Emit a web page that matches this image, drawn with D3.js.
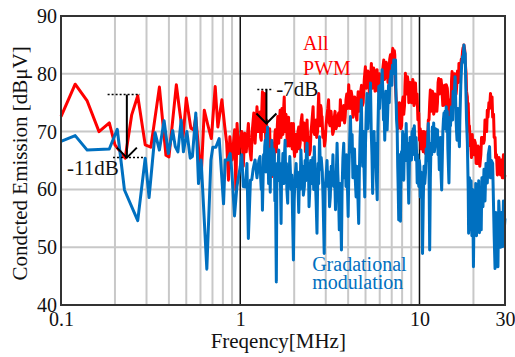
<!DOCTYPE html>
<html>
<head>
<meta charset="utf-8">
<script src="https://cdn.jsdelivr.net/npm/d3@7"></script>
<style>
  html, body { margin: 0; padding: 0; background: #fff; }
  svg text { font-family: "Liberation Serif", "Tinos", "Times New Roman", "DejaVu Serif", serif; }
</style>
</head>
<body>
<div id="chart"></div>
<script>
// axis values
const freqTicks = [0.1, 1, 10, 30];
const freqTickLabels = ['0.1', '1', '10', '30'];
const minorFreqs = [0.2, 0.3, 0.4, 0.5, 0.6, 0.7, 0.8, 0.9, 2, 3, 4, 5, 6, 7, 8, 9, 20];
const decadeFreqs = [1, 10];
const levelTicks = [40, 50, 60, 70, 80, 90];

// [MHz, dBuV]
const allPwm = [
  [0.100,72.6],[0.120,78.2],[0.140,75.3],[0.163,70.0],[0.186,71.5],[0.200,67.7],[0.228,65.4],[0.248,72.9],
  [0.268,76.2],[0.295,67.7],[0.317,67.3],[0.354,77.7],[0.385,65.9],[0.400,65.6],[0.440,78.1],[0.456,74.3],
  [0.480,69.1],[0.500,75.8],[0.530,70.6],[0.550,70.3],[0.565,72.5],[0.605,62.0],[0.630,73.7],[0.660,71.1],
  [0.690,68.8],[0.725,77.8],[0.750,70.8],[0.790,75.5],[0.820,70.8],[0.840,68.0],[0.860,61.6],[0.875,69.1],
  [0.900,65.1],[0.930,70.3],[0.945,59.9],[0.960,71.4],[0.980,66.2],[1.00,68.5],[1.02,70.0],[1.04,64.0],
  [1.06,69.7],[1.08,66.5],[1.11,71.4],[1.13,67.0],[1.15,65.1],[1.17,70.5],[1.19,73.2],[1.21,68.0],
  [1.24,74.3],[1.26,70.0],[1.29,73.4],[1.30,69.0],[1.31,68.5],[1.32,74.0],[1.33,76.9],[1.34,71.0],
  [1.35,70.0],[1.36,75.0],[1.37,76.6],[1.38,70.5],[1.39,68.0],[1.40,72.0],[1.41,69.8],[1.42,66.0],
  [1.43,64.5],[1.45,69.0],[1.46,70.5],[1.47,65.0],[1.48,63.5],[1.49,67.0],[1.50,62.2],[1.51,66.5],
  [1.52,68.0],[1.53,64.5],[1.55,66.0],[1.56,69.5],[1.57,70.3],[1.58,67.0],[1.59,66.5],[1.61,71.0],
  [1.62,72.6],[1.63,68.5],[1.64,68.0],[1.66,72.5],[1.67,73.7],[1.68,70.0],[1.69,69.0],[1.70,73.0],
  [1.71,74.0],[1.73,69.5],[1.74,70.5],[1.75,74.5],[1.76,76.0],[1.77,71.5],[1.78,70.0],[1.80,73.0],
  [1.81,72.0],[1.83,67.5],[1.84,68.5],[1.85,71.5],[1.86,72.5],[1.88,68.0],[1.89,67.5],[1.91,70.5],
  [1.93,71.4],[1.95,67.0],[1.96,68.0],[1.97,70.5],[1.98,71.4],[2.00,66.5],[2.01,65.7],[2.03,68.5],
  [2.04,69.5],[2.06,66.5],[2.08,67.5],[2.10,70.0],[2.12,70.8],[2.14,67.0],[2.16,68.0],[2.18,71.5],
  [2.21,72.9],[2.23,69.0],[2.25,68.5],[2.27,71.5],[2.29,71.0],[2.31,66.5],[2.33,67.0],[2.35,71.0],
  [2.36,72.0],[2.38,68.5],[2.40,69.0],[2.43,66.0],[2.46,66.8],[2.48,70.0],[2.50,71.0],[2.53,73.0],
  [2.55,74.3],[2.57,70.0],[2.60,69.5],[2.62,71.5],[2.65,72.0],[2.67,69.0],[2.70,70.0],[2.72,74.0],
  [2.74,76.6],[2.77,72.0],[2.79,71.0],[2.81,74.5],[2.83,74.0],[2.85,71.0],[2.86,72.6],[2.89,69.0],
  [2.92,70.0],[2.95,67.5],[2.98,68.5],[3.01,71.0],[3.04,72.5],[3.08,74.0],[3.11,75.5],[3.14,71.5],
  [3.17,71.0],[3.21,73.5],[3.25,71.4],[3.28,69.5],[3.31,70.0],[3.35,72.5],[3.38,73.5],[3.42,70.5],
  [3.46,71.0],[3.50,72.5],[3.54,73.2],[3.58,71.0],[3.62,75.5],[3.66,73.0],[3.70,72.0],[3.74,74.0],
  [3.78,74.5],[3.82,71.5],[3.85,72.5],[3.89,75.5],[3.93,76.5],[3.98,74.0],[4.03,78.1],[4.07,75.0],
  [4.11,74.0],[4.16,77.0],[4.21,76.0],[4.25,72.5],[4.30,73.5],[4.35,76.0],[4.40,75.5],[4.44,72.5],
  [4.48,72.0],[4.52,75.5],[4.55,76.9],[4.60,73.5],[4.65,74.0],[4.70,77.0],[4.75,78.0],[4.80,74.5],
  [4.85,75.0],[4.92,79.0],[4.99,81.2],[5.04,77.5],[5.10,78.0],[5.15,80.5],[5.21,79.5],[5.25,76.5],
  [5.30,77.5],[5.35,80.0],[5.39,81.8],[5.45,77.5],[5.50,78.5],[5.55,81.0],[5.60,80.5],[5.65,77.0],
  [5.70,77.5],[5.75,80.0],[5.80,80.7],[5.86,77.0],[5.92,77.0],[5.98,80.0],[6.05,79.0],[6.11,77.0],
  [6.18,78.0],[6.25,81.0],[6.32,82.4],[6.38,79.0],[6.45,79.5],[6.52,82.0],[6.60,81.5],[6.67,78.5],
  [6.75,80.0],[6.82,82.5],[6.89,83.3],[6.95,80.5],[7.00,81.0],[7.05,83.5],[7.10,84.4],[7.15,81.5],
  [7.20,82.5],[7.24,84.0],[7.28,83.3],[7.34,78.0],[7.40,76.0],[7.45,74.5],[7.51,73.2],[7.58,70.5],
  [7.65,72.0],[7.72,75.0],[7.80,74.5],[7.87,70.5],[7.95,71.0],[8.02,75.0],[8.10,76.0],[8.17,73.0],
  [8.25,74.5],[8.30,78.0],[8.35,80.1],[8.42,76.5],[8.50,77.5],[8.57,79.5],[8.65,78.5],[8.72,75.0],
  [8.80,75.5],[8.87,78.5],[8.95,78.0],[9.02,75.0],[9.10,76.0],[9.17,79.0],[9.25,78.5],[9.32,74.5],
  [9.40,75.0],[9.45,78.0],[9.50,78.4],[9.60,75.0],[9.70,76.5],[9.80,72.0],[9.91,73.2],[10.0,68.5],
  [10.1,70.5],[10.2,67.0],[10.3,70.0],[10.4,68.5],[10.5,66.5],[10.6,70.0],[10.7,67.0],[10.8,66.2],
  [10.9,69.5],[11.0,70.0],[11.1,67.5],[11.2,72.0],[11.3,72.0],[11.4,75.0],[11.5,77.2],[11.6,73.5],
  [11.7,74.0],[11.8,77.0],[11.9,76.5],[12.0,73.0],[12.1,73.5],[12.2,76.5],[12.4,76.0],[12.5,73.5],
  [12.6,75.0],[12.7,78.5],[12.8,79.2],[12.9,76.5],[13.0,77.5],[13.2,79.0],[13.3,78.0],[13.5,74.5],
  [13.6,75.5],[13.8,78.0],[13.9,77.0],[14.0,74.5],[14.1,78.1],[14.3,77.5],[14.4,76.0],[14.6,72.0],
  [14.7,72.5],[14.9,75.5],[15.0,74.5],[15.1,79.0],[15.2,80.4],[15.4,77.0],[15.5,78.0],[15.7,80.0],
  [15.8,79.5],[16.0,76.5],[16.1,77.5],[16.3,80.5],[16.4,80.0],[16.5,78.5],[16.6,81.8],[16.8,79.5],
  [16.9,80.5],[17.1,82.5],[17.2,82.0],[17.4,84.0],[17.5,84.5],[17.6,83.0],[17.7,85.0],[17.8,84.5],
  [17.9,84.0],[18.0,82.0],[18.2,80.0],[18.3,77.0],[18.5,76.0],[18.6,72.5],[18.7,74.9],[18.9,70.0],
  [19.0,71.0],[19.2,67.5],[19.3,68.0],[19.5,65.5],[19.7,69.5],[19.9,66.5],[20.1,66.0],[20.3,68.5],
  [20.5,68.0],[20.7,64.5],[21.0,64.5],[21.2,67.5],[21.5,67.0],[21.7,64.0],[22.0,66.0],[22.2,69.0],
  [22.5,69.0],[22.8,68.0],[23.0,68.5],[23.2,72.0],[23.5,71.5],[23.7,70.0],[23.9,73.7],[24.1,72.5],
  [24.4,75.0],[24.6,74.0],[24.9,76.6],[25.1,75.0],[25.4,76.0],[25.6,72.5],[25.9,73.0],[26.1,69.0],
  [26.4,69.0],[26.6,65.5],[26.9,66.0],[27.2,62.5],[27.5,63.0],[27.8,65.5],[28.0,64.5],[28.3,62.5],
  [28.7,65.1],[29.0,62.0],[29.2,63.5],[29.4,66.0],[29.6,64.8],[29.8,62.0],[30.0,62.5]
];

const gradational = [
  [0.100,68.3],[0.120,69.3],[0.140,66.8],[0.186,67.0],[0.206,70.4],[0.226,59.9],[0.268,54.6],[0.295,65.4],
  [0.310,58.6],[0.335,69.8],[0.354,66.8],[0.376,71.9],[0.397,66.2],[0.420,70.2],[0.434,67.4],[0.449,66.5],
  [0.468,72.0],[0.482,66.5],[0.504,70.0],[0.526,65.4],[0.541,65.7],[0.565,73.2],[0.585,61.0],[0.605,65.1],
  [0.651,46.2],[0.686,65.1],[0.703,67.3],[0.731,67.3],[0.763,68.8],[0.807,57.5],[0.824,65.1],[0.853,65.1],
  [0.879,66.2],[0.899,62.8],[0.929,55.4],[0.958,60.5],[1.00,63.9],[1.02,66.0],[1.04,60.5],[1.07,60.4],
  [1.09,64.5],[1.11,51.5],[1.14,61.6],[1.16,61.7],[1.18,63.5],[1.21,65.1],[1.24,62.0],[1.27,65.0],
  [1.29,65.7],[1.30,62.0],[1.31,60.0],[1.32,63.5],[1.33,56.4],[1.34,61.1],[1.35,66.0],[1.36,64.0],
  [1.37,67.5],[1.38,68.5],[1.39,63.0],[1.40,69.5],[1.41,66.5],[1.42,70.8],[1.43,66.0],[1.44,61.0],
  [1.45,67.0],[1.46,64.5],[1.47,59.5],[1.48,66.5],[1.49,63.0],[1.50,68.5],[1.52,62.5],[1.53,67.0],
  [1.55,66.0],[1.56,58.0],[1.57,63.0],[1.59,44.0],[1.60,60.0],[1.61,64.5],[1.62,62.0],[1.64,66.8],
  [1.65,61.5],[1.67,64.5],[1.69,54.1],[1.70,62.0],[1.72,64.0],[1.73,66.2],[1.75,61.0],[1.76,65.0],
  [1.78,68.5],[1.79,63.0],[1.81,64.5],[1.82,60.0],[1.84,57.6],[1.85,63.0],[1.87,61.5],[1.89,65.7],
  [1.90,64.0],[1.92,60.0],[1.94,62.5],[1.96,55.0],[1.98,47.8],[2.00,58.0],[2.02,62.0],[2.05,64.5],
  [2.07,60.5],[2.09,63.0],[2.12,56.0],[2.14,62.5],[2.16,60.0],[2.18,66.8],[2.21,62.0],[2.23,64.0],
  [2.25,59.0],[2.28,60.5],[2.30,65.0],[2.32,61.5],[2.34,66.5],[2.36,68.0],[2.38,62.0],[2.40,64.5],
  [2.42,57.0],[2.44,59.5],[2.47,65.0],[2.49,61.0],[2.51,62.0],[2.54,65.5],[2.57,60.0],[2.59,67.4],
  [2.62,62.5],[2.65,58.0],[2.68,52.4],[2.70,60.0],[2.72,64.5],[2.74,61.0],[2.77,69.1],[2.80,63.5],
  [2.83,65.5],[2.87,63.0],[2.90,58.0],[2.94,48.9],[2.97,60.0],[3.01,62.0],[3.05,65.0],[3.08,60.5],
  [3.12,63.0],[3.15,57.0],[3.18,58.7],[3.22,64.0],[3.25,61.0],[3.29,66.0],[3.32,60.5],[3.36,63.0],
  [3.40,56.5],[3.43,62.0],[3.47,68.0],[3.50,63.0],[3.53,60.0],[3.57,53.0],[3.60,61.0],[3.63,57.5],
  [3.67,49.5],[3.70,60.0],[3.74,65.5],[3.78,68.0],[3.81,62.0],[3.85,65.5],[3.89,60.5],[3.92,66.0],
  [3.96,61.0],[4.00,55.3],[4.04,64.0],[4.08,68.5],[4.12,72.6],[4.16,66.5],[4.21,69.5],[4.25,62.0],
  [4.30,63.9],[4.34,67.0],[4.38,62.0],[4.43,58.7],[4.47,64.0],[4.52,60.0],[4.58,54.1],[4.62,63.0],
  [4.66,69.0],[4.70,72.0],[4.74,75.5],[4.78,68.0],[4.82,64.0],[4.87,70.0],[4.91,63.0],[4.95,58.7],
  [5.00,68.0],[5.05,73.0],[5.10,76.6],[5.15,70.5],[5.20,74.0],[5.26,72.0],[5.33,78.4],[5.38,70.0],
  [5.43,66.0],[5.48,59.3],[5.53,66.5],[5.58,70.0],[5.63,64.5],[5.68,68.0],[5.75,62.0],[5.81,58.2],
  [5.86,70.0],[5.93,77.8],[5.99,74.0],[6.05,78.0],[6.12,76.0],[6.19,80.7],[6.25,76.5],[6.30,72.0],
  [6.35,74.0],[6.40,68.5],[6.45,73.0],[6.50,77.0],[6.55,74.5],[6.60,70.3],[6.66,74.0],[6.72,78.0],
  [6.78,75.0],[6.84,79.0],[6.89,78.9],[6.95,80.5],[7.01,78.0],[7.07,81.5],[7.13,80.0],[7.19,82.4],
  [7.27,81.0],[7.35,82.4],[7.40,76.0],[7.45,72.0],[7.51,70.3],[7.56,64.0],[7.61,60.0],[7.66,54.7],
  [7.71,62.0],[7.76,66.0],[7.83,54.5],[7.88,62.0],[7.94,66.5],[8.00,64.5],[8.06,70.0],[8.11,66.5],
  [8.17,61.6],[8.23,67.0],[8.30,69.5],[8.36,65.0],[8.43,71.4],[8.50,66.0],[8.57,68.0],[8.64,62.5],
  [8.71,57.6],[8.78,64.0],[8.86,69.0],[8.94,66.0],[9.02,65.1],[9.09,70.0],[9.16,66.0],[9.22,70.5],
  [9.29,67.4],[9.36,71.0],[9.43,68.0],[9.50,65.1],[9.57,69.0],[9.64,66.0],[9.71,61.1],[9.78,66.0],
  [9.84,62.2],[9.91,60.5],[9.97,65.0],[10.05,64.0],[10.1,58.7],[10.2,63.0],[10.3,60.0],[10.4,48.9],
  [10.5,58.0],[10.6,64.0],[10.7,61.0],[10.8,62.8],[10.9,67.0],[11.0,65.0],[11.1,68.0],[11.2,71.4],
  [11.3,64.0],[11.4,49.5],[11.5,62.0],[11.6,68.0],[11.7,66.0],[11.8,70.8],[11.9,68.5],[12.0,71.5],
  [12.1,66.5],[12.2,67.4],[12.3,70.5],[12.4,68.0],[12.6,70.3],[12.7,66.0],[12.8,68.0],[12.9,63.4],
  [13.0,66.0],[13.1,69.0],[13.2,62.5],[13.3,59.9],[13.4,65.0],[13.5,70.0],[13.6,72.0],[13.7,73.2],
  [13.8,70.5],[13.9,73.5],[14.0,71.5],[14.1,74.3],[14.2,70.0],[14.3,73.5],[14.4,67.0],[14.5,64.0],
  [14.6,61.1],[14.7,67.0],[14.8,72.5],[14.9,71.0],[15.0,73.5],[15.1,74.3],[15.3,72.0],[15.4,77.0],
  [15.6,75.5],[15.8,79.5],[15.9,76.0],[16.0,72.0],[16.1,70.0],[16.2,68.5],[16.4,74.0],[16.5,70.5],
  [16.7,67.4],[16.8,72.0],[17.0,78.0],[17.2,81.8],[17.4,83.0],[17.5,82.0],[17.7,85.0],[17.8,84.0],
  [18.0,83.5],[18.1,79.0],[18.3,72.0],[18.5,68.0],[18.7,60.0],[18.8,52.4],[19.0,62.0],[19.2,53.0],
  [19.4,61.5],[19.6,52.0],[19.8,60.0],[20.0,46.6],[20.2,58.5],[20.4,52.5],[20.6,61.0],[20.8,52.0],
  [21.0,59.0],[21.2,54.0],[21.4,61.5],[21.6,52.5],[21.9,60.0],[22.1,53.0],[22.3,62.0],[22.6,57.0],
  [22.9,63.5],[23.2,58.0],[23.5,64.5],[23.9,61.1],[24.2,66.0],[24.6,67.4],[24.9,62.0],[25.2,65.0],
  [25.6,64.5],[26.1,52.0],[26.4,46.3],[26.7,56.0],[27.0,48.0],[27.4,46.6],[27.7,58.0],[28.0,54.7],
  [28.4,50.0],[28.7,56.0],[29.1,50.1],[29.4,58.0],[29.7,53.0],[30.0,55.0]
];

// reduction markers: frequency of arrow, top and bottom level, dotted spans
const drops = [
  { label: '-11dB', f: 0.233, top: 76.4, bottom: 65.5, topSpan: [0.182, 0.276], bottomSpan: [0.195, 0.287], textF: 0.108, textV: 62.5 },
  { label: '-7dB', f: 1.40, top: 77.3, bottom: 71.4, topSpan: [1.245, 1.53], bottomSpan: null, textF: 1.59, textV: 76.2 }
];

const seriesLabels = [
  { lines: ['All', 'PWM'], f: 2.24, v: [84.1, 79.8], color: '#ff0000' },
  { lines: ['Gradational', 'modulation'], f: 2.52, v: [45.8, 42.8], color: '#0070c0' }
];

const W = 515, H = 357;
const margin = { top: 16, right: 10, bottom: 52, left: 61 };
const w = W - margin.left - margin.right;
const h = H - margin.top - margin.bottom;
const serif = '"Liberation Serif", "Tinos", "Times New Roman", "DejaVu Serif", serif';

const svg = d3.select('#chart').append('svg')
  .attr('width', W)
  .attr('height', H);

const x = d3.scaleLog().domain([0.1, 30]).range([0, w]);
const y = d3.scaleLinear().domain([40, 90]).range([h, 0]);

const g = svg.append('g')
  .attr('transform', 'translate(' + margin.left + ',' + margin.top + ')');

/* ---------- grid ---------- */
g.append('g').selectAll('line')
  .data(minorFreqs).enter().append('line')
  .attr('x1', d => x(d)).attr('x2', d => x(d))
  .attr('y1', 0).attr('y2', h)
  .style('stroke', '#c8c8c8').style('stroke-width', 2);

g.append('g').selectAll('line')
  .data(levelTicks.slice(1, -1)).enter().append('line')
  .attr('x1', 0).attr('x2', w)
  .attr('y1', d => y(d)).attr('y2', d => y(d))
  .style('stroke', '#c8c8c8').style('stroke-width', 2);

g.append('g').selectAll('line')
  .data(decadeFreqs).enter().append('line')
  .attr('x1', d => x(d)).attr('x2', d => x(d))
  .attr('y1', 0).attr('y2', h)
  .style('stroke', '#111').style('stroke-width', 1.5);

/* ---------- series ---------- */
const line = d3.line()
  .x(d => x(d[0]))
  .y(d => y(d[1]));

g.append('path')
  .datum(allPwm)
  .attr('d', line)
  .style('fill', 'none')
  .style('stroke', '#ff0000')
  .style('stroke-width', 3)
  .style('stroke-linejoin', 'round');

g.append('path')
  .datum(gradational)
  .attr('d', line)
  .style('fill', 'none')
  .style('stroke', '#0070c0')
  .style('stroke-width', 3)
  .style('stroke-linejoin', 'round');

/* ---------- frame + axes ---------- */
g.append('rect')
  .attr('width', w).attr('height', h)
  .style('fill', 'none')
  .style('stroke', '#333')
  .style('stroke-width', 2);

const yAxis = g.append('g')
  .call(d3.axisLeft(y).tickValues(levelTicks).tickSize(0).tickPadding(4));
yAxis.attr('font-family', null);
yAxis.select('.domain').remove();
yAxis.selectAll('text')
  .style('font-family', serif)
  .style('font-size', '20px')
  .style('fill', '#111');

const xAxis = g.append('g')
  .attr('transform', 'translate(0,' + h + ')')
  .call(d3.axisBottom(x).tickValues(freqTicks).tickSize(0).tickPadding(7)
    .tickFormat((d, i) => freqTickLabels[i]));
xAxis.attr('font-family', null);
xAxis.select('.domain').remove();
xAxis.selectAll('text')
  .style('font-family', serif)
  .style('font-size', '20px')
  .style('fill', '#111');

svg.append('text')
  .attr('x', margin.left + x(1.63))
  .attr('y', 348)
  .attr('text-anchor', 'middle')
  .style('font-family', serif)
  .style('font-size', '21px')
  .style('fill', '#111')
  .text('Freqency[MHz]');

svg.append('text')
  .attr('transform', 'translate(27,' + (margin.top + y(64.5)) + ') rotate(-90)')
  .attr('text-anchor', 'middle')
  .style('font-family', serif)
  .style('font-size', '21px')
  .style('fill', '#111')
  .text('Condcted Emission [dBμV]');

/* ---------- reduction arrows ---------- */
drops.forEach(dp => {
  const a = g.append('g');
  a.append('line')
    .attr('x1', x(dp.topSpan[0])).attr('x2', x(dp.topSpan[1]))
    .attr('y1', y(dp.top)).attr('y2', y(dp.top))
    .style('stroke', '#000').style('stroke-width', 1.5)
    .style('stroke-dasharray', '2,2');
  if (dp.bottomSpan) {
    a.append('line')
      .attr('x1', x(dp.bottomSpan[0])).attr('x2', x(dp.bottomSpan[1]))
      .attr('y1', y(dp.bottom)).attr('y2', y(dp.bottom))
      .style('stroke', '#000').style('stroke-width', 1.5)
      .style('stroke-dasharray', '2,2');
  }
  const ax = x(dp.f), y0 = y(dp.top), y1 = y(dp.bottom);
  a.append('line')
    .attr('x1', ax).attr('x2', ax).attr('y1', y0).attr('y2', y1)
    .style('stroke', '#000').style('stroke-width', 2);
  a.append('path')
    .attr('d', 'M' + (ax - 10) + ',' + (y1 - 10) + 'L' + ax + ',' + y1 + 'L' + (ax + 10) + ',' + (y1 - 10))
    .style('fill', 'none').style('stroke', '#000').style('stroke-width', 2);
  a.append('text')
    .attr('x', x(dp.textF)).attr('y', y(dp.textV))
    .style('font-family', serif)
    .style('font-size', '21px')
    .style('fill', '#111')
    .text(dp.label);
});

/* ---------- series labels ---------- */
seriesLabels.forEach(lb => {
  lb.lines.forEach((t, i) => {
    g.append('text')
      .attr('x', x(lb.f)).attr('y', y(lb.v[i]))
      .style('font-family', serif)
      .style('font-size', '20px')
      .style('fill', lb.color)
      .text(t);
  });
});
</script>
</body>
</html>
